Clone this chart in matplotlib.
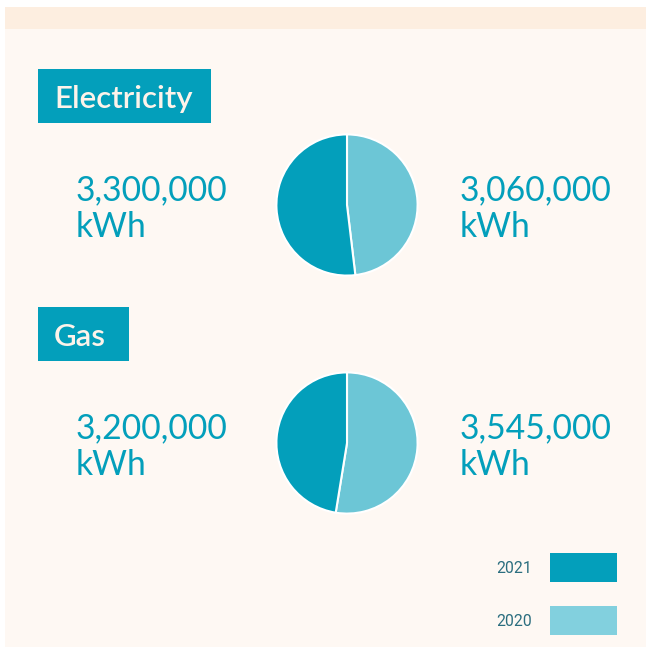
import matplotlib.pyplot as plt
from matplotlib.patches import Rectangle

plt.rcParams['font.family'] = ['Lato', 'DejaVu Sans']

# data
sections = ["Electricity", "Gas"]
years = ["2021", "2020"]
values_2021 = [3300000, 3200000]
values_2020 = [3060000, 3545000]

dark = "#039fbb"
light = "#6cc6d6"
light_legend = "#82d0de"
panel = "#fef8f3"
band = "#fdeee0"

W, H = 646, 647
fig = plt.figure(figsize=(W / 100, H / 100), dpi=100)
fig.patch.set_facecolor("white")
ax = fig.add_axes([0, 0, 1, 1])
ax.set_xlim(0, W)
ax.set_ylim(H, 0)
ax.axis("off")

ax.add_patch(Rectangle((5, 7), W - 5, H - 7, color=panel, lw=0))
ax.add_patch(Rectangle((5, 7), W - 5, 22, color=band, lw=0))

box_w = {"Electricity": 173, "Gas": 91}
tops = [69, 307]
for i, name in enumerate(sections):
    top = tops[i]
    ax.add_patch(Rectangle((38, top), box_w[name], 54, color=dark, lw=0))
    ax.text(54, top + 39, name, color="#fdf3ea", fontsize=22.5, va="baseline",
            ha="left", fontweight="semibold")

    base = top + 131
    ax.text(76, base, f"{values_2021[i]:,}", color=dark, fontsize=24.2, va="baseline")
    ax.text(76, base + 37, "kWh", color=dark, fontsize=24.2, va="baseline")
    ax.text(460, base, f"{values_2020[i]:,}", color=dark, fontsize=24.2, va="baseline")
    ax.text(460, base + 37, "kWh", color=dark, fontsize=24.2, va="baseline")

    # pie axes
    cx, cy, r = 347, top + 136, 72
    pax = fig.add_axes([(cx - r) / W, 1 - (cy + r) / H, 2 * r / W, 2 * r / H])
    pax.pie([values_2020[i], values_2021[i]], colors=[light, dark], startangle=90,
            counterclock=False, wedgeprops=dict(edgecolor="white", linewidth=1.5))
    pax.set_xlim(-1.02, 1.02)
    pax.set_ylim(-1.02, 1.02)

# legend
leg_cols = [dark, light_legend]
for j, yr in enumerate(years):
    y0 = 553 + j * 53
    ax.add_patch(Rectangle((550, y0), 67, 29, color=leg_cols[j], lw=0))
    ax.text(496, y0 + 20, yr, color="#2b6e7f", fontsize=11.3, va="baseline",
            family=["Roboto", "DejaVu Sans"])

fig.savefig("out.png", dpi=100, facecolor=fig.get_facecolor())
